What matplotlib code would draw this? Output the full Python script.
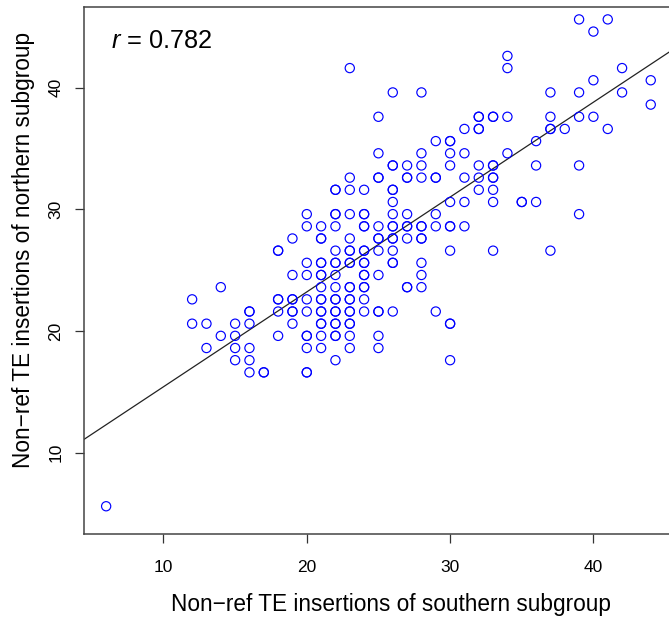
import numpy as np
import matplotlib
matplotlib.use("Agg")
import matplotlib.pyplot as plt

plt.rcParams['font.family'] = ['Liberation Sans', 'DejaVu Sans']
plt.rcParams['mathtext.fontset'] = 'custom'
plt.rcParams['mathtext.it'] = 'Liberation Sans:italic'
plt.rcParams['mathtext.rm'] = 'Liberation Sans'

# northern-subgroup value (row) -> southern-subgroup values (one entry per sample)
rows = {
    45.6: [39, 41],
    44.6: [40],
    42.6: [34],
    41.6: [23, 34, 42],
    40.6: [40, 44],
    39.6: [26, 28, 37, 39, 42],
    38.6: [44],
    37.6: [25, 32, 32, 33, 33, 34, 37, 39, 40],
    36.6: [31, 32, 32, 37, 37, 38, 41],
    35.6: [29, 30, 30, 36],
    34.6: [25, 28, 30, 31, 34],
    33.6: [26, 26, 27, 28, 30, 32, 33, 33, 36, 39],
    32.6: [23, 25, 25, 27, 27, 28, 29, 29, 31, 32, 33, 33],
    31.6: [22, 22, 23, 24, 26, 26, 32, 33],
    30.6: [26, 30, 31, 33, 35, 35, 36],
    29.6: [20, 22, 22, 23, 24, 24, 26, 27, 29, 39],
    28.6: [20, 21, 22, 24, 24, 25, 26, 26, 27, 27, 28, 28, 29, 30, 30, 31],
    27.6: [19, 21, 21, 23, 25, 25, 26, 26, 27, 28, 28],
    26.6: [18, 18, 22, 23, 23, 24, 24, 25, 26, 30, 33, 37],
    25.6: [20, 21, 21, 22, 22, 23, 23, 24, 24, 26, 26, 28],
    24.6: [19, 20, 21, 21, 22, 24, 24, 25, 28],
    23.6: [14, 21, 22, 23, 23, 24, 24, 27, 27, 28],
    22.6: [12, 18, 18, 19, 19, 20, 21, 21, 22, 22, 23, 23, 24],
    21.6: [16, 16, 18, 19, 19, 20, 21, 21, 22, 22, 23, 23, 24, 25, 25, 26, 29],
    20.6: [12, 13, 15, 16, 19, 21, 21, 22, 22, 23, 23, 30, 30],
    19.6: [14, 15, 18, 20, 20, 21, 22, 22, 23, 25],
    18.6: [13, 15, 16, 20, 21, 23, 25],
    17.6: [15, 16, 22, 30],
    16.6: [16, 17, 17, 20, 20],
    5.6: [6],
}

south = []
north = []
for yv, xs in rows.items():
    for xv in xs:
        south.append(xv)
        north.append(yv)
south = np.array(south, dtype=float)
north = np.array(north, dtype=float)

x_ticks = [10, 20, 30, 40]
y_ticks = [10, 20, 30, 40]
r_label = r'$r$ = 0.782'
x_label = 'Non\u2212ref TE insertions of southern subgroup'
y_label = 'Non\u2212ref TE insertions of northern subgroup'

W, H = 669, 623
fig = plt.figure(figsize=(W / 100, H / 100), dpi=100)
ax = fig.add_axes([83.5 / W, 89 / H, 603.5 / W, 527.5 / H])

ax.scatter(south, north, s=44, facecolors='none', edgecolors='#0000ff',
           linewidths=0.85, zorder=3)

xlim = (4.42, 46.53)
ylim = (3.32, 46.66)
slope, intercept = np.polyfit(south, north, 1)
xx = np.array(xlim)
ax.plot(xx, intercept + slope * xx, color='#222222', lw=0.9, zorder=2)

ax.set_xlim(*xlim)
ax.set_ylim(*ylim)
ax.set_xticks(x_ticks)
ax.set_yticks(y_ticks)
ax.tick_params(axis='both', length=6.5, width=0.9, color='#333333',
               labelsize=12.5)
ax.tick_params(axis='x', pad=12.5)
ax.tick_params(axis='y', pad=8)
for lab in ax.get_yticklabels():
    lab.set_rotation(90)
    lab.set_verticalalignment('center')

for side in ['left', 'bottom', 'top']:
    ax.spines[side].set_color('#444444')
    ax.spines[side].set_linewidth(1.1)
ax.spines['right'].set_visible(False)

ax.set_xlabel(x_label, fontsize=16.3)
ax.set_ylabel(y_label, fontsize=16.3)
ax.xaxis.set_label_coords((391 - 83.5) / 603.5, (534 - 604) / 527.5)
ax.yaxis.set_label_coords((24 - 83.5) / 603.5, (534 - 250) / 527.5)
for lbl in (ax.xaxis.label, ax.yaxis.label):
    lbl.set_verticalalignment('center')

ax.text((111 - 83.5) / 603.5, (534 - 48.3) / 527.5, r_label,
        transform=ax.transAxes, fontsize=18.3, ha='left', va='baseline')

fig.savefig('out.png', dpi=100)
